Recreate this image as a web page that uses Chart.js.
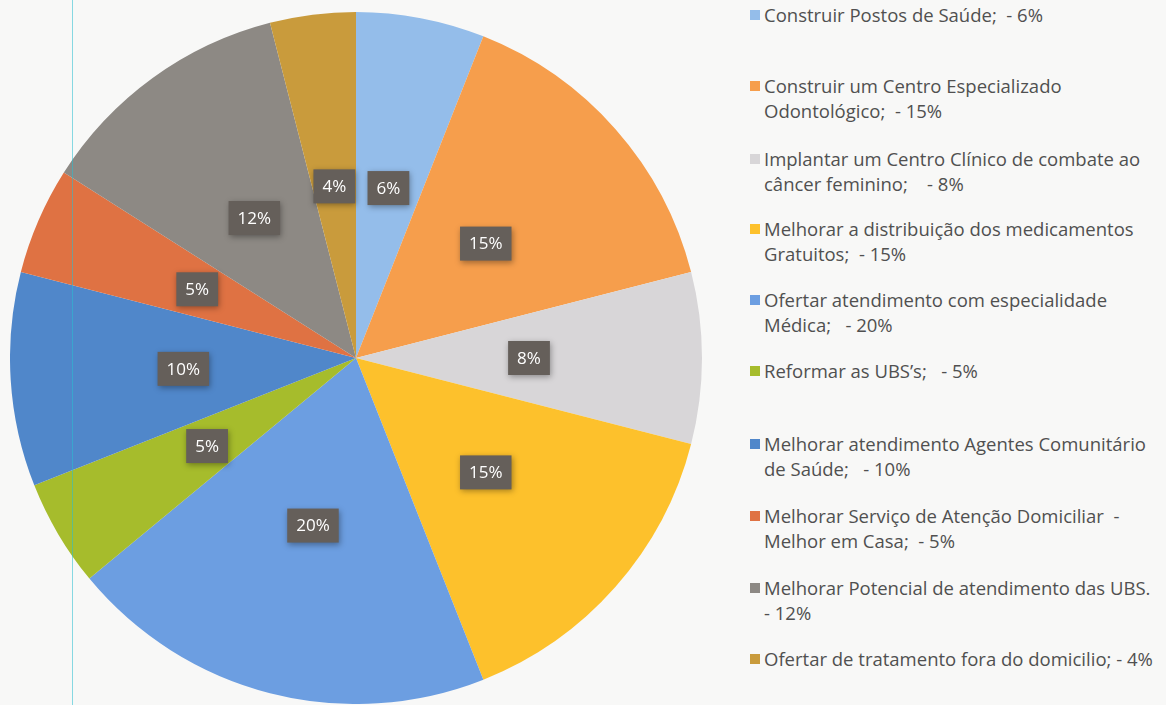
<!DOCTYPE html>
<html>
<head>
<meta charset="utf-8">
<script src="https://cdn.jsdelivr.net/npm/chart.js@4.4.1/dist/chart.umd.min.js"></script>
<style>
  html, body { margin: 0; padding: 0; }
  body { width: 1166px; height: 705px; background: #f8f8f7; position: relative; overflow: hidden; font-family: "Open Sans", sans-serif; }
  #pieBox { position: absolute; left: 10px; top: 12px; width: 692px; height: 692px; }
  #scanLine { position: absolute; left: 72px; top: 0; width: 1px; height: 705px; background: rgba(40, 190, 210, 0.55); }
  #legend { position: absolute; left: 748px; top: 0; width: 418px; }
  .item { position: absolute; left: 0; font-size: 18.5px; line-height: 25px; color: #505050; white-space: nowrap; }
  .item .sw { position: absolute; left: 2px; top: 8px; width: 10px; height: 10px; }
  .item .tx { margin-left: 16px; }
</style>
</head>
<body>
<div id="pieBox"><canvas id="pieChart"></canvas></div>
<div id="scanLine"></div>
<div id="legend"></div>
<script>
// categories (legend text, line breaks as in the original)
const categories = [
  ["Construir Postos de Saúde;  - 6%"],
  ["Construir um Centro Especializado", "Odontológico;  - 15%"],
  ["Implantar um Centro Clínico de combate ao", "câncer feminino;    - 8%"],
  ["Melhorar a distribuição dos medicamentos", "Gratuitos;  - 15%"],
  ["Ofertar atendimento com especialidade", "Médica;   - 20%"],
  ["Reformar as UBS’s;   - 5%"],
  ["Melhorar atendimento Agentes Comunitário", "de Saúde;   - 10%"],
  ["Melhorar Serviço de Atenção Domiciliar  -", "Melhor em Casa;  - 5%"],
  ["Melhorar Potencial de atendimento das UBS.", "- 12%"],
  ["Ofertar de tratamento fora do domicilio; - 4%"]
];
const percentages = [6, 15, 8, 15, 20, 5, 10, 5, 12, 4];
const sliceColors = [
  "#94bdea", "#f69e4c", "#d8d6d8", "#fdc12c", "#6c9ee1",
  "#a6bc2c", "#5087ca", "#df7243", "#8d8984", "#c99b3c"
];
// legend rows: top offset of each entry
const legendTops = [2, 73, 146, 216, 287, 358, 431, 503, 575, 646];

const labelBoxes = {
  id: "labelBoxes",
  afterDatasetsDraw(chart) {
    const ctx = chart.ctx;
    const meta = chart.getDatasetMeta(0);
    ctx.save();
    ctx.font = "17px 'Open Sans', sans-serif";
    ctx.textAlign = "center";
    ctx.textBaseline = "middle";
    meta.data.forEach((arc, i) => {
      const p = arc.tooltipPosition();
      const txt = percentages[i] + "%";
      const w = ctx.measureText(txt).width + 18;
      const h = 34;
      ctx.shadowColor = "rgba(0,0,0,0.35)";
      ctx.shadowBlur = 6;
      ctx.shadowOffsetX = 1;
      ctx.shadowOffsetY = 2;
      ctx.fillStyle = "#655f5a";
      ctx.fillRect(p.x - w / 2, p.y - h / 2, w, h);
      ctx.shadowColor = "transparent";
      ctx.fillStyle = "#ffffff";
      ctx.fillText(txt, p.x, p.y + 1);
    });
    ctx.restore();
  }
};

new Chart(document.getElementById("pieChart"), {
  type: "pie",
  data: {
    labels: categories.map(c => c.join(" ")),
    datasets: [{
      data: percentages,
      backgroundColor: sliceColors,
      borderWidth: 0
    }]
  },
  options: {
    responsive: true,
    maintainAspectRatio: false,
    animation: false,
    layout: { padding: 0 },
    plugins: {
      legend: { display: false },
      tooltip: { enabled: false }
    }
  },
  plugins: [labelBoxes]
});

// legend on the right
const legend = document.getElementById("legend");
categories.forEach((lines, i) => {
  const item = document.createElement("div");
  item.className = "item";
  item.style.top = legendTops[i] + "px";
  const sw = document.createElement("span");
  sw.className = "sw";
  sw.style.background = sliceColors[i];
  item.appendChild(sw);
  const tx = document.createElement("div");
  tx.className = "tx";
  tx.innerHTML = lines.map(l => l.replace(/ {2,}/g, m => "&nbsp;".repeat(m.length - 1) + " ")).join("<br>");
  item.appendChild(tx);
  legend.appendChild(item);
});
</script>
</body>
</html>
